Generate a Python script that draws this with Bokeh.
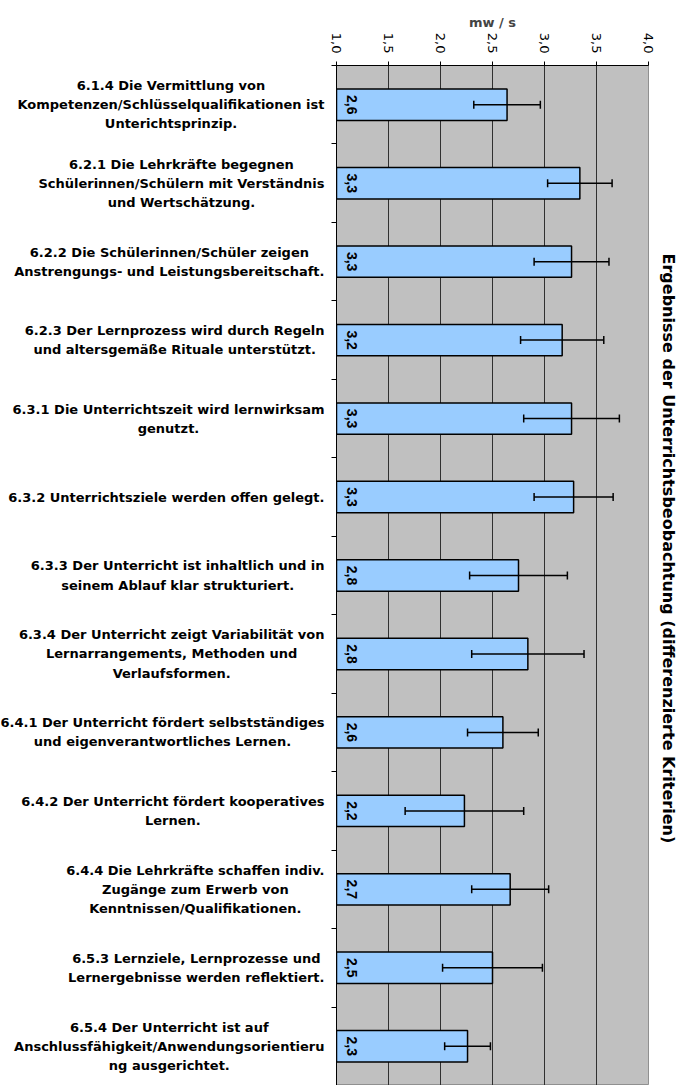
import math
import glob
from bokeh.plotting import figure
from bokeh.layouts import row
from bokeh.models import (ColumnDataSource, Range1d, FixedTicker, CustomJSTickFormatter,
                          Whisker, TeeHead, Title)
from bokeh.core.properties import value
from bokeh.embed import file_html
from bokeh.resources import INLINE

categories = [
    "6.1.4 Die Vermittlung von\nKompetenzen/Schlüsselqualifikationen ist\nUnterichtsprinzip.",
    "6.2.1 Die Lehrkräfte begegnen\nSchülerinnen/Schülern mit Verständnis\nund Wertschätzung.",
    "6.2.2 Die Schülerinnen/Schüler zeigen\nAnstrengungs- und Leistungsbereitschaft.",
    "6.2.3 Der Lernprozess wird durch Regeln\nund altersgemäße Rituale unterstützt.",
    "6.3.1 Die Unterrichtszeit wird lernwirksam\ngenutzt.",
    "6.3.2 Unterrichtsziele werden offen gelegt.",
    "6.3.3 Der Unterricht ist inhaltlich und in\nseinem Ablauf klar strukturiert.",
    "6.3.4 Der Unterricht zeigt Variabilität von\nLernarrangements, Methoden und\nVerlaufsformen.",
    "6.4.1 Der Unterricht fördert selbstständiges\nund eigenverantwortliches Lernen.",
    "6.4.2 Der Unterricht fördert kooperatives\nLernen.",
    "6.4.4 Die Lehrkräfte schaffen indiv.\nZugänge zum Erwerb von\nKenntnissen/Qualifikationen.",
    "6.5.3 Lernziele, Lernprozesse und\nLernergebnisse werden reflektiert.",
    "6.5.4 Der Unterricht ist auf\nAnschlussfähigkeit/Anwendungsorientieru\nng ausgerichtet.",
]
means = [2.64, 3.34, 3.26, 3.17, 3.26, 3.28, 2.75, 2.84, 2.60, 2.23, 2.67, 2.50, 2.26]
sds = [0.32, 0.31, 0.36, 0.40, 0.46, 0.38, 0.47, 0.54, 0.34, 0.57, 0.37, 0.48, 0.22]
x_ticks = [1.0, 1.5, 2.0, 2.5, 3.0, 3.5, 4.0]

LABEL_FONT = "DejaVu Sans"
NUM_FONT = "Liberation Sans"
LABEL_SIZE = 13
n = len(categories)
centers = [i + 0.5 for i in range(n)]
boundaries = list(range(n + 1))

LEFT_W = 330      # width of the label panel
LABEL_RIGHT = 324  # right edge of label blocks inside the panel

# text width measurement (for right-aligned blocks of centred lines)
_measure = None
try:
    from PIL import ImageFont
    hits = []
    for root in ("/usr/share/fonts", "/usr/local/share/fonts"):
        hits += glob.glob(root + "/**/DejaVuSans-Bold.ttf", recursive=True)
    if hits:
        _f = ImageFont.truetype(hits[0], LABEL_SIZE)
        _measure = lambda s: _f.getlength(s)
except Exception:
    _measure = None
if _measure is None:
    _measure = lambda s: 0.68 * LABEL_SIZE * len(s)


def block_width(text):
    return max(_measure(line) for line in text.split("\n"))


src = ColumnDataSource(dict(
    y=centers,
    mean=means,
    lower=[m - s for m, s in zip(means, sds)],
    upper=[m + s for m, s in zip(means, sds)],
    lbl=[f"{m:.1f}".replace(".", ",") for m in means],
))
lab_src = ColumnDataSource(dict(
    y=centers,
    text=categories,
    x=[LABEL_RIGHT - block_width(c) / 2 for c in categories],
))

y_range = Range1d(n, 0)

# ---------------- label panel ----------------
pl = figure(width=LEFT_W, height=1085, output_backend="svg", toolbar_location=None,
            x_range=Range1d(0, LEFT_W), y_range=y_range,
            min_border_left=0, min_border_right=0, min_border_top=65, min_border_bottom=0)
pl.axis.visible = False
pl.grid.visible = False
pl.outline_line_color = None
pl.background_fill_color = "white"
pl.border_fill_color = "white"
pl.text(x="x", y="y", text="text", source=lab_src, text_align="center",
        text_baseline="middle", text_font=value(LABEL_FONT), text_font_style="bold",
        text_font_size=f"{LABEL_SIZE}px", text_color="black", text_line_height=1.27)

# ---------------- chart ----------------
p = figure(width=692 - LEFT_W, height=1085, output_backend="svg", toolbar_location=None,
           x_range=Range1d(1.0, 4.0), y_range=y_range,
           x_axis_location="above",
           min_border_left=336 - LEFT_W, min_border_right=44, min_border_top=65,
           min_border_bottom=0)
p.border_fill_color = "white"
p.background_fill_color = "#C0C0C0"
p.outline_line_color = "#909090"

p.ygrid.visible = False
p.xgrid.ticker = FixedTicker(ticks=x_ticks)
p.xgrid.grid_line_color = "#303030"
p.xgrid.grid_line_width = 1

xa = p.xaxis[0]
xa.ticker = FixedTicker(ticks=x_ticks)
xa.formatter = CustomJSTickFormatter(code="return tick.toFixed(1).replace('.', ',');")
xa.major_label_orientation = -math.pi / 2
xa.major_label_text_font = "DejaVu Sans"
xa.major_label_text_font_size = "13px"
xa.major_label_text_color = "black"
xa.major_label_standoff = 8
xa.major_tick_out = 4
xa.major_tick_in = 0
xa.minor_tick_line_color = None
xa.axis_line_color = "black"
xa.major_tick_line_color = "black"
xa.axis_label = "mw / s"
xa.axis_label_text_font = "DejaVu Sans"
xa.axis_label_text_font_style = "bold"
xa.axis_label_text_font_size = "13px"
xa.axis_label_standoff = 0

ya = p.yaxis[0]
ya.ticker = FixedTicker(ticks=centers, minor_ticks=boundaries)
ya.formatter = CustomJSTickFormatter(code="return '';")
ya.major_tick_out = 0
ya.major_tick_in = 0
ya.minor_tick_out = 5
ya.minor_tick_in = 0
ya.minor_tick_line_color = "black"
ya.axis_line_color = "black"
ya.major_label_standoff = 0

p.hbar(y="y", left=1.0, right="mean", height=0.4, source=src,
       fill_color="#99CCFF", line_color="black", line_width=1.5)

wh = Whisker(source=src, base="y", lower="lower", upper="upper", dimension="width",
             line_color="black", line_width=1.5, level="overlay",
             lower_head=TeeHead(size=8, line_color="black", line_width=1.5),
             upper_head=TeeHead(size=8, line_color="black", line_width=1.5))
p.add_layout(wh)

p.text(x=1.0, y="y", text="lbl", source=src, angle=-math.pi / 2, x_offset=15,
       text_align="center", text_baseline="middle", text_font=value(NUM_FONT),
       text_font_style="bold", text_font_size="14px", text_color="black")

t = Title(text="Ergebnisse der Unterrichtsbeobachtung (differenzierte Kriterien)",
          align="left", offset=188, text_font="DejaVu Sans", text_font_style="bold",
          text_font_size="16px", text_color="black", standoff=20)
p.add_layout(t, "right")

layout = row(pl, p, spacing=0)
open("out.html", "w").write(file_html(layout, INLINE))
